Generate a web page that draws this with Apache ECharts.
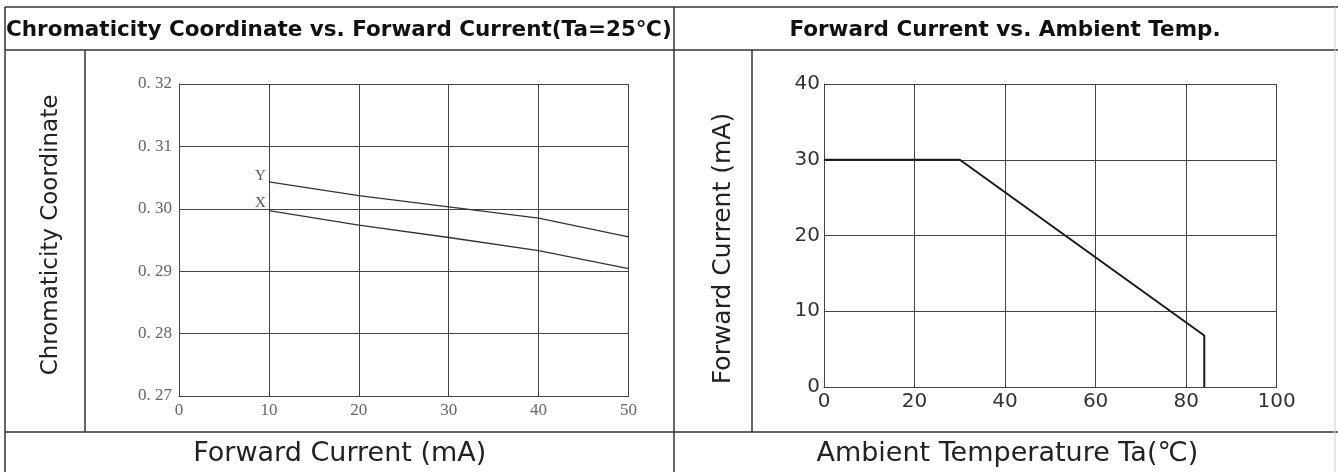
<!DOCTYPE html>
<html>
<head>
<meta charset="utf-8">
<script src="https://cdn.jsdelivr.net/npm/echarts@6/dist/echarts.min.js"></script>
<style>
html,body{margin:0;padding:0;background:#fff;}
#chart{width:1338px;height:472px;}
</style>
</head>
<body>
<div id="chart"></div>
<script>
// ---- data ----
const leftTitle = 'Chromaticity Coordinate vs. Forward Current(Ta=25\u2103)';
const rightTitle = 'Forward Current vs. Ambient Temp.';
const leftXName = 'Forward Current (mA)';
const leftYName = 'Chromaticity Coordinate';
const rightXName = 'Ambient Temperature Ta(\u2103)';
const rightYName = 'Forward Current (mA)';

const chromaYTicks = [0.27, 0.28, 0.29, 0.30, 0.31, 0.32];
const chromaYTickLabels = ['0. 27', '0. 28', '0. 29', '0. 30', '0. 31', '0. 32'];
const forwardCurrent = [10, 20, 30, 40, 50];
const chromaY = [0.3043, 0.3021, 0.3003, 0.2985, 0.2955];
const chromaX = [0.2997, 0.2974, 0.2954, 0.2933, 0.2904];

const ambientTemp = [0, 30, 84, 84];
const maxForwardCurrent = [30, 30, 6.8, 0];

// ---- build ----
function pairs(xs, ys, name, dy) {
  return xs.map((x, i) => {
    const item = { value: [x, ys[i]] };
    if (i === 0) {
      item.label = {
        show: true, formatter: name, position: 'left', distance: 3, offset: [0, dy],
        fontFamily: 'Liberation Serif', fontSize: 15, color: '#555'
      };
    }
    return item;
  });
}

const gridLine = { lineStyle: { color: '#444', width: 1 } };
const lineColor = '#333';
const SANS = 'DejaVu Sans';

function L(x1, y1, x2, y2, color, w) {
  return { type: 'line', silent: true, z: 100,
    shape: { x1, y1, x2, y2 }, style: { stroke: color || '#333', lineWidth: w || 1.5 } };
}

const chart = echarts.init(document.getElementById('chart'), null, { renderer: 'canvas' });
chart.setOption({
  backgroundColor: '#fff',
  animation: false,
  title: [
    { text: leftTitle, left: 6, top: 19, padding: 0,
      textStyle: { fontFamily: SANS, fontWeight: 'bold', fontSize: 21.5, color: '#111' } },
    { text: rightTitle, left: 1005, top: 19, padding: 0, textAlign: 'center',
      textStyle: { fontFamily: SANS, fontWeight: 'bold', fontSize: 21.5, color: '#111' } }
  ],
  grid: [
    { left: 179, top: 84, width: 449.5, height: 313.3 },
    { left: 824, top: 84, width: 452.7, height: 304.3 }
  ],
  xAxis: [
    { gridIndex: 0, type: 'value', min: 0, max: 50, interval: 10,
      name: leftXName, nameLocation: 'middle', nameGap: 44,
      nameTextStyle: { fontFamily: SANS, fontSize: 27, color: '#222', padding: [0, 128, 0, 0] },
      axisLine: { show: true, lineStyle: { color: '#444', width: 1 } },
      axisTick: { show: false },
      axisLabel: { margin: 6, fontFamily: 'Liberation Serif', fontSize: 17, color: '#666' },
      splitLine: gridLine },
    { gridIndex: 1, type: 'value', min: 0, max: 100, interval: 20,
      name: rightXName, nameLocation: 'middle', nameGap: 53,
      nameTextStyle: { fontFamily: SANS, fontSize: 27, color: '#222', padding: [0, 86, 0, 0] },
      axisLine: { show: true, lineStyle: { color: '#444', width: 1 } },
      axisTick: { show: false },
      axisLabel: { margin: 5, fontFamily: SANS, fontSize: 20, color: '#333' },
      splitLine: gridLine }
  ],
  yAxis: [
    { gridIndex: 0, type: 'value', min: chromaYTicks[0], max: chromaYTicks[chromaYTicks.length - 1], interval: 0.01,
      name: leftYName, nameLocation: 'middle', nameGap: 116, nameRotate: 90,
      nameTextStyle: { fontFamily: SANS, fontSize: 23, color: '#222', padding: [0, 0, 0, 10] },
      axisLine: { show: true, lineStyle: { color: '#444', width: 1 } },
      axisTick: { show: false },
      axisLabel: { margin: 7, fontFamily: 'Liberation Serif', fontSize: 17, color: '#666',
        formatter: v => {
          let best = 0;
          chromaYTicks.forEach((t, i) => { if (Math.abs(t - v) < Math.abs(chromaYTicks[best] - v)) best = i; });
          return chromaYTickLabels[best];
        } },
      splitLine: gridLine },
    { gridIndex: 1, type: 'value', min: 0, max: 40, interval: 10,
      name: rightYName, nameLocation: 'middle', nameGap: 88, nameRotate: 90,
      nameTextStyle: { fontFamily: SANS, fontSize: 25, color: '#222', padding: [0, 26, 0, 0] },
      axisLine: { show: true, lineStyle: { color: '#444', width: 1 } },
      axisTick: { show: false },
      axisLabel: { margin: 4, fontFamily: SANS, fontSize: 20, color: '#333' },
      splitLine: gridLine }
  ],
  series: [
    { name: 'Y', type: 'line', xAxisIndex: 0, yAxisIndex: 0, showSymbol: true, symbol: 'circle', symbolSize: 0,
      data: pairs(forwardCurrent, chromaY, 'Y', -6),
      lineStyle: { color: lineColor, width: 1.3 }, itemStyle: { color: lineColor } },
    { name: 'X', type: 'line', xAxisIndex: 0, yAxisIndex: 0, showSymbol: true, symbol: 'circle', symbolSize: 0,
      data: pairs(forwardCurrent, chromaX, 'X', -8),
      lineStyle: { color: lineColor, width: 1.3 }, itemStyle: { color: lineColor } },
    { name: 'Max Forward Current', type: 'line', xAxisIndex: 1, yAxisIndex: 1, symbol: 'none',
      data: ambientTemp.map((t, i) => [t, maxForwardCurrent[i]]),
      lineStyle: { color: '#1a1a1a', width: 2 } }
  ],
  graphic: [
    L(5, 7, 1338, 7),
    L(5, 50, 1338, 50),
    L(5, 432, 1338, 432),
    L(5, 7, 5, 472),
    L(674, 7, 674, 472),
    L(85, 50, 85, 432),
    L(752, 50, 752, 432),
    L(1335, 7, 1335, 472, '#cfcfcf', 1)
  ]
});
</script>
</body>
</html>
